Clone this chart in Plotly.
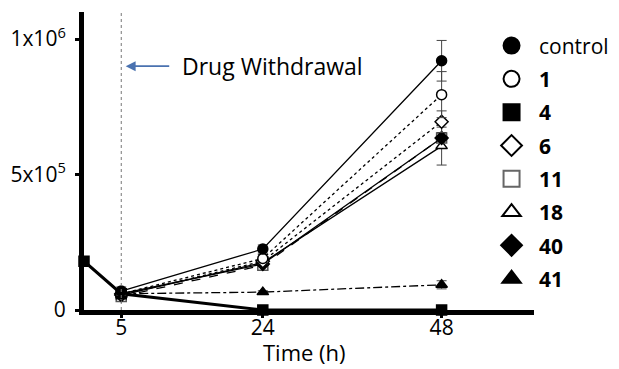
import plotly.graph_objects as go

time = [0, 5, 24, 48]
time_t = [5, 24, 48]

control = [7.0e4, 2.25e5, 9.2e5]
control_err = [1.5e4, 1.5e4, 7.5e4]
c1 = [6.0e4, 1.9e5, 7.95e5]
c1_err = [1.0e4, 1.5e4, 8.5e4]
c4 = [1.8e5, 6.0e4, 0, 0]
c6 = [5.5e4, 1.8e5, 6.95e5]
c6_err = [1.0e4, 1.0e4, 4.0e4]
c11 = [5.0e4, 1.65e5, 6.35e5]
c18 = [5.5e4, 1.75e5, 6.05e5]
c18_err = [1.0e4, 1.0e4, 7.0e4]
c40 = [6.0e4, 1.7e5, 6.35e5]
c41 = [6.0e4, 6.6e4, 9.3e4]
c41_err = [0, 5.0e3, 1.5e4]

legend_names = ["control", "<b>1</b>", "<b>4</b>", "<b>6</b>", "<b>11</b>", "<b>18</b>", "<b>40</b>", "<b>41</b>"]
legend_symbols = ["circle", "circle", "square", "diamond", "square", "triangle-up", "diamond", "triangle-up"]
legend_fill = ["black", "white", "black", "white", "white", "white", "black", "black"]
legend_edge = ["black", "black", "black", "black", "#666", "black", "black", "black"]

FONT = "Open Sans"
fig = go.Figure()

def add(x, y, err, symbol, fill, dash, width=1.3, size=10, edge="black"):
    fig.add_trace(go.Scatter(
        x=x, y=y, mode="lines+markers", showlegend=False, cliponaxis=False,
        line=dict(color="black", width=width, dash=dash),
        marker=dict(symbol=symbol, size=size, color=fill, line=dict(color=edge, width=1.5)),
        error_y=dict(type="data", array=err, visible=err is not None, color="#444", thickness=1, width=5),
    ))

add(time_t, c41, c41_err, "triangle-up", "black", "dashdot")
add(time_t, c18, c18_err, "triangle-up", "white", "solid")
add(time_t, c11, None, "square", "white", "dash", edge="#555")
add(time_t, c40, None, "diamond", "black", "solid")
add(time_t, c6, c6_err, "diamond", "white", "dot")
add(time_t, c1, c1_err, "circle", "white", "dot")
add(time, c4, None, "square", "black", "solid", width=3)
add(time_t, control, control_err, "circle", "black", "solid")

for name, sym, fill, edge in zip(legend_names, legend_symbols, legend_fill, legend_edge):
    fig.add_trace(go.Scatter(
        x=[None], y=[None], mode="markers", name=name, legendgroup=name,
        marker=dict(symbol=sym, size=16, color=fill, line=dict(color=edge, width=2)),
    ))

fig.add_vline(x=5, line=dict(color="#777", width=1, dash="dot"))

fig.add_annotation(x=5.6, y=9.0e5, ax=45, ay=0, xref="x", yref="y",
                   showarrow=True, arrowhead=2, arrowsize=1.1,
                   arrowwidth=1.8, arrowcolor="#4a72b0", text="")
fig.add_annotation(x=12.9, y=9.0e5, xref="x", yref="y", xanchor="left", yanchor="middle",
                   text="Drug Withdrawal", showarrow=False,
                   font=dict(family=FONT, size=23, color="black"))

fig.add_annotation(x=0.491, y=-0.141, xref="paper", yref="paper", xanchor="center", yanchor="middle",
                   text="Time (h)", showarrow=False,
                   font=dict(family=FONT, size=22, color="black"))

fig.update_layout(
    width=619, height=369,
    margin=dict(l=76, r=93, t=4, b=67),
    plot_bgcolor="white", paper_bgcolor="white",
    font=dict(family=FONT, color="black"),
    legend=dict(x=0.889, y=0.955, xanchor="left", yanchor="top",
                font=dict(family=FONT, size=21, color="black"), itemwidth=45,
                tracegroupgap=3, itemsizing="trace", bgcolor="rgba(0,0,0,0)"),
    xaxis=dict(range=[0, 60.4], tickvals=[5, 24, 48], ticktext=["5", "24", "48"],
               showline=True, linewidth=5, linecolor="black", ticks="outside",
               ticklen=3, tickwidth=3, tickcolor="black", showgrid=False, zeroline=False,
               tickfont=dict(size=21), automargin=False, ticklabelstandoff=-8),
    yaxis=dict(range=[0, 1.1e6], tickvals=[0, 5e5, 1e6],
               ticktext=["0", "5x10<sup>5</sup>", "1x10<sup>6</sup>"],
               showline=True, linewidth=5, linecolor="black", ticks="outside",
               ticklen=4, tickwidth=3, tickcolor="black", showgrid=False, zeroline=False,
               tickfont=dict(size=21), automargin=False, ticklabelstandoff=5),
)

fig.write_html("out.html")
